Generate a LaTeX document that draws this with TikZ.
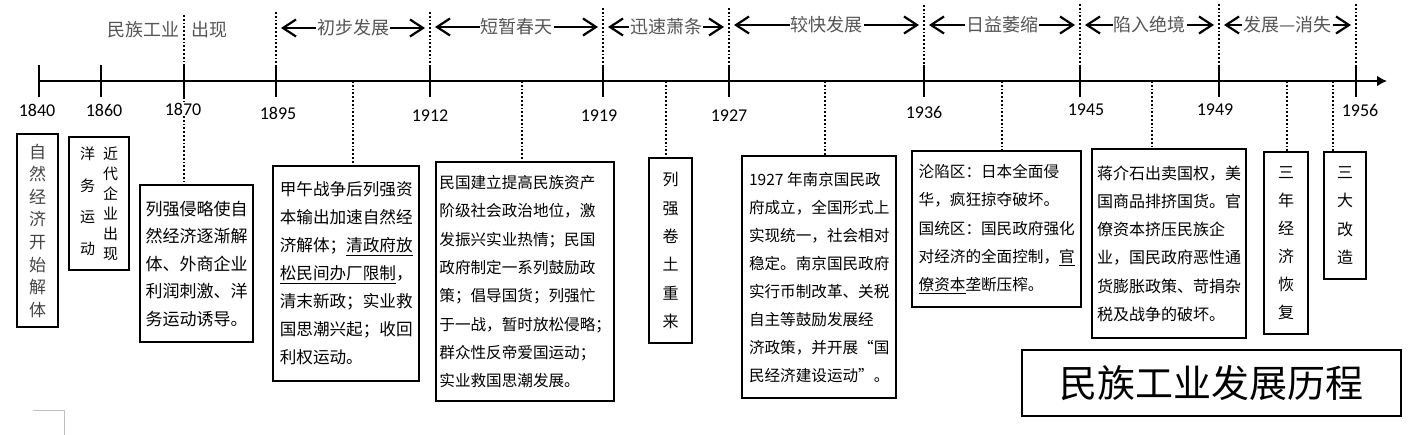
\documentclass[tikz,border=0pt]{standalone}
\usepackage{fontspec}
\setmainfont{Carlito}
\newfontfamily\cjk{Noto Sans CJK SC}
\usepackage{tikz}
\usetikzlibrary{arrows.meta,positioning,calc}
\definecolor{labelgray}{HTML}{555555}
\definecolor{textgray}{HTML}{454545}
\newcommand{\cardfnt}[2]{\cjk\fontsize{#1}{#2}\selectfont}
\tikzset{
  axisln/.style = {line width=2.4pt,-{Latex[length=10pt,width=11pt]}},
  yrtick/.style = {line width=2.4pt},
  dotln/.style  = {line width=1.8pt,dash pattern=on 1.8pt off 2pt},
  perarr/.style = {line width=2.2pt,
                   {Straight Barb[length=13pt,width=17pt]}-{Straight Barb[length=13pt,width=17pt]},
                   shorten <=5pt,shorten >=5pt},
  perlbl/.style = {fill=white,inner sep=1pt,text=labelgray,
                   font=\cjk\fontsize{18}{20}\selectfont},
  yrlbl/.style  = {fill=white,inner sep=1pt,font=\fontsize{18}{20}\selectfont},
  card/.style   = {draw,line width=2.4pt,inner sep=0pt,anchor=north west,align=left},
  vcard/.style  = {card,align=center},
}

\begin{document}
\begin{tikzpicture}[x=1pt,y=-1pt]
  \fill[white] (0,0) rectangle (1421,435);
  \useasboundingbox (0,0) rectangle (1421,435);
  % axis
  \coordinate (ax0) at (39,81);
  \coordinate (ax1) at (1387,81);
  \draw[axisln] (ax0) -- (ax1);
  \foreach \yr/\x/\top in {1840/39/65,1860/101/65,1870/184/15,1895/276/12,1912/430/12,
                          1919/603/8,1927/729/8,1936/924/5,1945/1080/4,1949/1219/4,1956/1356/4}{
    \coordinate (t\yr) at (\x,81);
    \draw[yrtick] ($(t\yr)+(0,-16)$) -- ($(t\yr)+(0,16)$);
    \draw[dotln] (\x,\top) -- ($(t\yr)+(0,-16)$);
  }
  % periods
  \node[perlbl,anchor=east] (p0a) at (181,30) {民族工业};
  \node[perlbl,anchor=west] (p0b) at (190,30) {出现};
  \foreach \i/\a/\b/\y/\txt in {1/276/430/28/初步发展,2/430/603/27/短暂春天,
                                3/603/729/27/迅速萧条,4/729/924/25/较快发展,
                                5/924/1080/25/日益萎缩,6/1080/1219/25/陷入绝境,
                                7/1219/1356/25/发展—消失}{
    \coordinate (pl\i) at (\a,\y);
    \coordinate (pr\i) at (\b,\y);
    \draw[perarr] (pl\i) -- node[perlbl] (per\i) {\txt} (pr\i);
  }
  % boxes
  \node[vcard,minimum width=41,minimum height=193,text=textgray,font=\cardfnt{17}{22.6}]
    (bxNature) at (16,133) {自\\然\\经\\济\\开\\始\\解\\体};
  \node[card,minimum width=60,minimum height=133]
    (bxYangwu) at (68,136)
    {\parbox[t]{17pt}{\cardfnt{15}{31.7}\centering 洋\\务\\运\\动}\hspace{6pt}%
     \parbox[t]{17pt}{\cardfnt{15}{20}\centering 近\\代\\企\\业\\出\\现}};
  \node[card,minimum width=113,minimum height=157,font=\cardfnt{17}{27.5}]
    (bxInvade) at (139,184)
    {列强侵略使自\\然经济逐渐解\\体、外商企业\\利润刺激、洋\\务运动诱导。};
  \node[card,minimum width=146,minimum height=215,font=\cardfnt{16.6}{28}]
    (bxJiawu) at (272,165)
    {甲午战争后列强资\\本输出加速自然经\\济解体；\underline{清政府放}\\
     \underline{松民间办厂限制}，\\清末新政；实业救\\国思潮兴起；收回\\利权运动。};
  \node[card,minimum width=178,minimum height=239,font=\cardfnt{15.6}{28.3}]
    (bxMinguo) at (435,161)
    {民国建立提高民族资产\\阶级社会政治地位，激\\发振兴实业热情；民国\\政府制定一系列鼓励政\\
     策；倡导国货；列强忙\\于一战，暂时放松侵略；\\群众性反帝爱国运动；\\实业救国思潮发展。};
  \node[vcard,minimum width=43,minimum height=185,font=\cardfnt{16}{28.3}]
    (bxReturn) at (648,157) {列\\强\\卷\\土\\重\\来};
  \node[card,minimum width=154,minimum height=242,font=\cardfnt{15.6}{28}]
    (bxNanjing) at (741,155)
    {1927 年南京国民政\\府成立，全国形式上\\实现统一，社会相对\\稳定。南京国民政府\\
     实行币制改革、关税\\自主等鼓励发展经\\济政策，并开展“国\\民经济建设运动”。};
  \node[card,minimum width=169,minimum height=156,font=\cardfnt{15.6}{28.3}]
    (bxShrink) at (911,150)
    {沦陷区：日本全面侵\\华，疯狂掠夺破坏。\\国统区：国民政府强化\\
     对经济的全面控制，\underline{官}\\\underline{僚资本}垄断压榨。};
  \node[card,minimum width=154,minimum height=189,font=\cardfnt{16}{28.3}]
    (bxJiang) at (1091,148)
    {蒋介石出卖国权，美\\国商品排挤国货。官\\僚资本挤压民族企\\业，国民政府恶性通\\
     货膨胀政策、苛捐杂\\税及战争的破坏。};
  \node[vcard,minimum width=44,minimum height=182,font=\cardfnt{16}{28}]
    (bxRecover) at (1263,151) {三\\年\\经\\济\\恢\\复};
  \node[vcard,minimum width=42,minimum height=127,font=\cardfnt{16}{28.3}]
    (bxReform) at (1323,151) {三\\大\\改\\造};
  % links
  \draw[dotln] ($(t1870)+(0,16)$) -- (t1870 |- bxInvade.north);
  \foreach \x/\bx [count=\i] in {353/bxJiawu,522/bxMinguo,666/bxReturn,825/bxNanjing,
                                 1002/bxShrink,1152/bxJiang,1287/bxRecover,1333/bxReform}{
    \coordinate (m\i) at (\x,81);
    \draw[dotln] (m\i) -- (m\i |- \bx.north);
  }
  % years
  \foreach \yr/\x/\ly in {1840/37/110,1860/104/110,1870/183/109,1895/278/113,1912/430/116,
                          1919/599/116,1927/729/116,1936/924/112,1945/1086/110,1949/1215/110,
                          1956/1360/110}
    \node[yrlbl] (y\yr) at (\x,\ly) {\yr};
  % title
  \node[draw,line width=2.4pt,minimum width=379,minimum height=66,
        font=\cjk\fontsize{38}{40}\selectfont] (title) at (1211.5,383) {民族工业发展历程};
  % corner mark
  \draw[gray!50,line width=0.8pt] (33,410) -- (64,410) -- (64,435);
\end{tikzpicture}
\end{document}
